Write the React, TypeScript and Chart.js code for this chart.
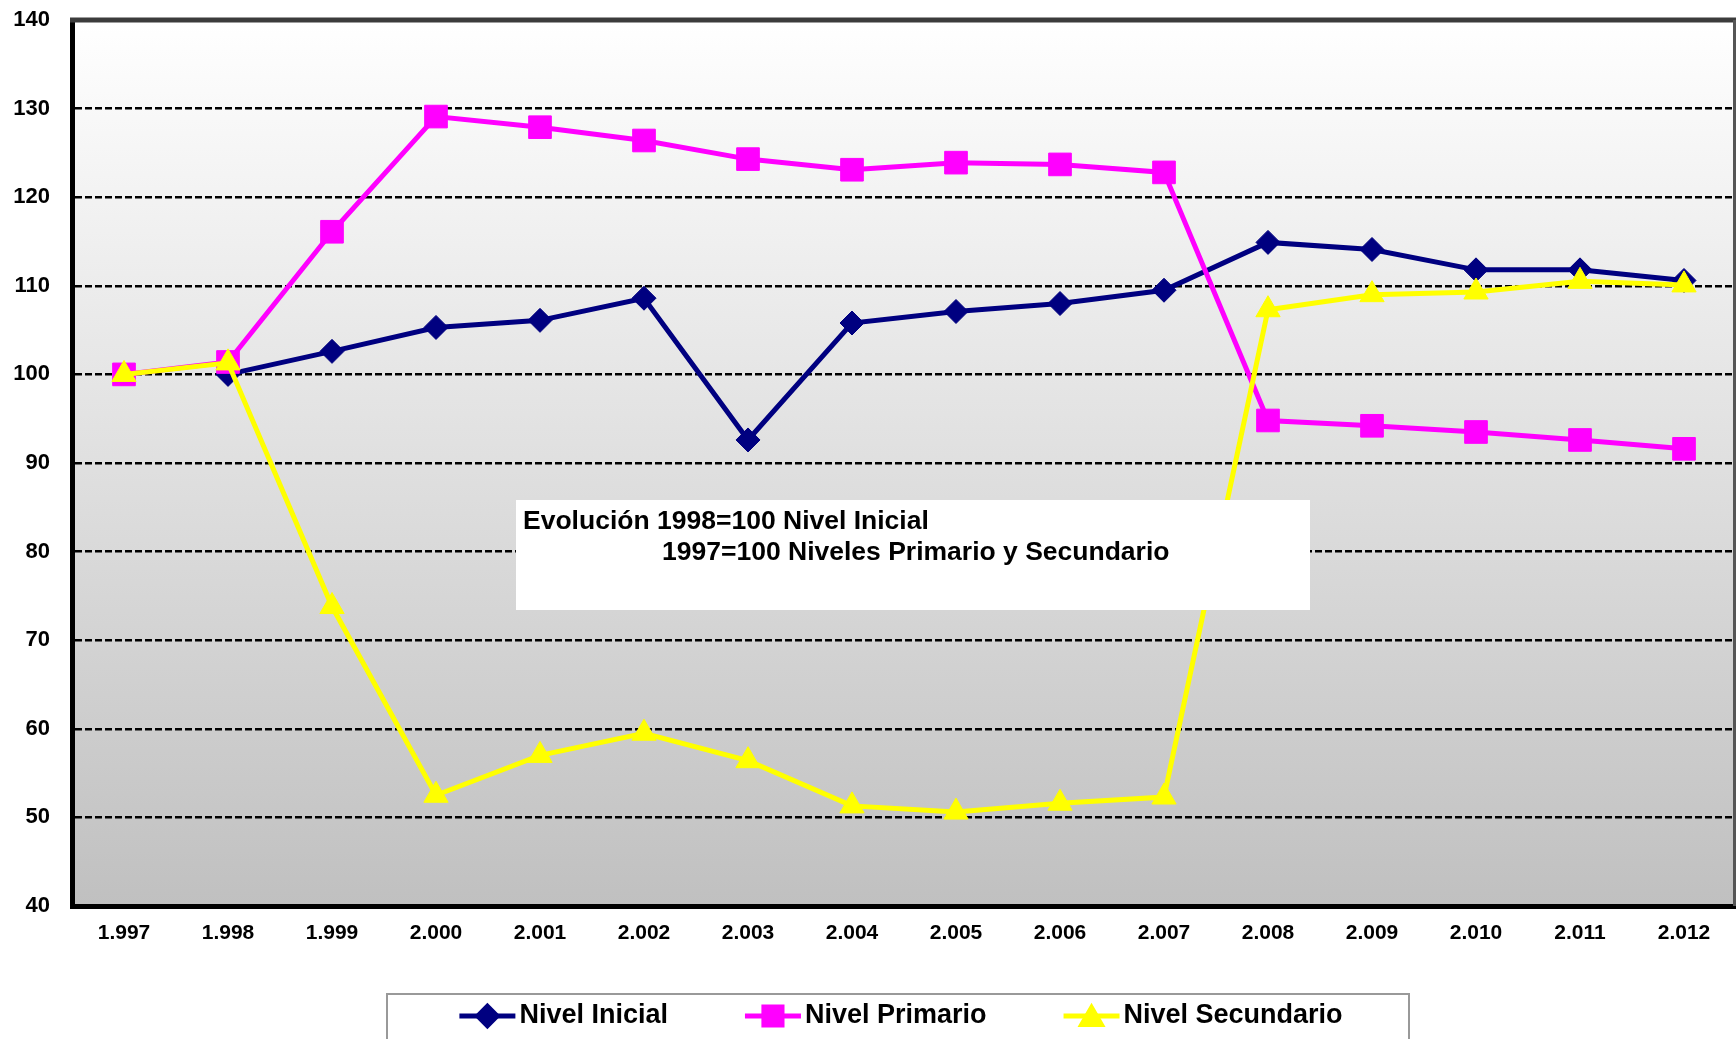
import React, { useEffect, useRef } from "react";
import { Chart, registerables } from "chart.js";
import { drawPoint } from "chart.js/helpers";

Chart.register(...registerables);

const years = ["1.997", "1.998", "1.999", "2.000", "2.001", "2.002", "2.003", "2.004", "2.005", "2.006", "2.007", "2.008", "2.009", "2.010", "2.011", "2.012"];
const nivelInicial = [null, 100, 102.6, 105.3, 106.1, 108.6, 92.6, 105.8, 107.1, 108.0, 109.5, 114.9, 114.1, 111.8, 111.8, 110.6];
const nivelPrimario = [100, 101.4, 116.1, 129.1, 127.9, 126.4, 124.3, 123.1, 123.9, 123.7, 122.8, 94.8, 94.2, 93.5, 92.6, 91.6];
const nivelSecundario = [100, 101.3, 73.8, 52.5, 57.0, 59.5, 56.4, 51.3, 50.6, 51.6, 52.3, 107.3, 109.0, 109.3, 110.5, 110.1];
const yMin = 40;
const yMax = 140;
const yStep = 10;
const titleLines = ["Evolución 1998=100 Nivel Inicial", "1997=100 Niveles Primario y Secundario"];
const legendLabels = ["Nivel Inicial", "Nivel Primario", "Nivel Secundario"];

const NAVY = "#000080";
const MAGENTA = "#ff00ff";
const YELLOW = "#ffff00";
const FONT = '"Liberation Sans", Arial, sans-serif';

const bgPlugin = {
  id: "bgGradient",
  beforeDraw(chart: any) {
    const { ctx, chartArea: a } = chart;
    const g = ctx.createLinearGradient(0, a.top, 0, a.bottom);
    g.addColorStop(0, "#ffffff");
    g.addColorStop(1, "#c0c0c0");
    ctx.save();
    ctx.fillStyle = g;
    ctx.fillRect(a.left, a.top, a.right - a.left, a.bottom - a.top);
    ctx.restore();
  },
};

const framePlugin = {
  id: "frame",
  afterDraw(chart: any) {
    const { ctx, chartArea: a } = chart;
    ctx.save();
    ctx.strokeStyle = "#3c3c3c";
    ctx.lineWidth = 5;
    ctx.beginPath();
    ctx.moveTo(a.left - 2, a.top);
    ctx.lineTo(a.right, a.top);
    ctx.stroke();
    ctx.strokeStyle = "#555555";
    ctx.lineWidth = 3;
    ctx.beginPath();
    ctx.moveTo(a.right - 1.5, a.top);
    ctx.lineTo(a.right - 1.5, a.bottom);
    ctx.stroke();
    ctx.restore();
  },
};

const titlePlugin = {
  id: "titleBox",
  afterDatasetsDraw(chart: any) {
    const { ctx } = chart;
    ctx.save();
    ctx.fillStyle = "#ffffff";
    ctx.fillRect(516, 500, 794, 110);
    ctx.fillStyle = "#000000";
    ctx.font = `bold 26.5px ${FONT}`;
    ctx.textBaseline = "middle";
    ctx.textAlign = "left";
    ctx.fillText(titleLines[0], 523, 522);
    ctx.fillText(titleLines[1], 662, 553);
    ctx.restore();
  },
};

const legendPlugin = {
  id: "customLegend",
  afterDraw(chart: any) {
    const { ctx } = chart;
    ctx.save();
    const bx = 387, by = 994, bw = 1022, bh = 60;
    ctx.strokeStyle = "#999999";
    ctx.lineWidth = 2;
    ctx.strokeRect(bx, by, bw, bh);
    ctx.font = `bold 27px ${FONT}`;
    ctx.textBaseline = "middle";
    ctx.textAlign = "left";
    const lineLen = 56;
    const gapText = 4;
    const gapItem = 77;
    const order = [2, 1, 0];
    const widths = legendLabels.map((t) => ctx.measureText(t).width);
    const total = widths.reduce((s, w) => s + w + lineLen + gapText, 0) + gapItem * 2;
    let x = bx + bw / 2 - total / 2 + 3;
    const cy = 1016;
    order.forEach((dsIndex, k) => {
      const ds = chart.data.datasets[dsIndex];
      ctx.strokeStyle = ds.borderColor;
      ctx.lineWidth = 5;
      ctx.beginPath();
      ctx.moveTo(x, cy);
      ctx.lineTo(x + lineLen, cy);
      ctx.stroke();
      ctx.fillStyle = ds.pointBackgroundColor;
      ctx.strokeStyle = ds.pointBorderColor;
      drawPoint(ctx, { pointStyle: ds.pointStyle, rotation: 0, radius: ds.pointRadius * 0.8, borderWidth: 1 }, x + lineLen / 2, cy + (ds.pointStyle === "triangle" ? 3 : 0));
      ctx.fillStyle = "#000000";
      ctx.fillText(legendLabels[k], x + lineLen + gapText, cy);
      x += lineLen + gapText + widths[k] + gapItem;
    });
    ctx.restore();
  },
};

export default function App() {
  const ref = useRef<HTMLCanvasElement>(null);
  useEffect(() => {
    document.body.style.margin = "0";
    const canvas = ref.current!;
    const xFont = { family: FONT, size: 21, weight: "bold" as const };
    const yFont = { family: FONT, size: 22, weight: "bold" as const };
    const chart = new Chart(canvas, {
      type: "line",
      data: {
        labels: years,
        datasets: [
          {
            label: "Nivel Secundario",
            data: nivelSecundario,
            borderColor: YELLOW,
            backgroundColor: YELLOW,
            pointBackgroundColor: YELLOW,
            pointBorderColor: YELLOW,
            pointStyle: "triangle",
            pointRadius: 14,
            pointBorderWidth: 1,
            borderWidth: 5,
            tension: 0,
          },
          {
            label: "Nivel Primario",
            data: nivelPrimario,
            borderColor: MAGENTA,
            backgroundColor: MAGENTA,
            pointBackgroundColor: MAGENTA,
            pointBorderColor: MAGENTA,
            pointStyle: "rect",
            pointRadius: 16,
            pointBorderWidth: 1,
            borderWidth: 5,
            tension: 0,
          },
          {
            label: "Nivel Inicial",
            data: nivelInicial,
            borderColor: NAVY,
            backgroundColor: NAVY,
            pointBackgroundColor: NAVY,
            pointBorderColor: NAVY,
            pointStyle: "rectRot",
            pointRadius: 12,
            pointBorderWidth: 1,
            borderWidth: 5,
            tension: 0,
          },
        ],
      },
      options: {
        responsive: false,
        animation: false,
        devicePixelRatio: 1,
        layout: { autoPadding: false, padding: { top: 20, right: 0, bottom: 83, left: 0 } },
        plugins: { legend: { display: false }, tooltip: { enabled: false } },
        scales: {
          x: {
            offset: true,
            grid: { display: false, drawTicks: false },
            border: { display: true, color: "#000000", width: 5 },
            ticks: { padding: 15, color: "#000000", font: xFont, maxRotation: 0, autoSkip: false },
            afterFit: (s: any) => {
              s.height = 50;
              s.paddingLeft = 0;
              s.paddingRight = 0;
            },
          },
          y: {
            min: yMin,
            max: yMax,
            ticks: { stepSize: yStep, padding: 22, color: "#000000", font: yFont },
            grid: {
              drawTicks: false,
              lineWidth: 2.5,
              color: (c: any) => (c.tick && (c.tick.value === yMin || c.tick.value === yMax) ? "rgba(0,0,0,0)" : "#000000"),
            },
            border: { display: true, color: "#000000", width: 5, dash: [7, 3] },
            afterFit: (s: any) => {
              s.width = 72;
              s.paddingTop = 0;
              s.paddingBottom = 0;
            },
          },
        },
      },
      plugins: [bgPlugin, framePlugin, titlePlugin, legendPlugin],
    });
    return () => chart.destroy();
  }, []);
  return <canvas ref={ref} width={1736} height={1039} style={{ display: "block" }} />;
}
